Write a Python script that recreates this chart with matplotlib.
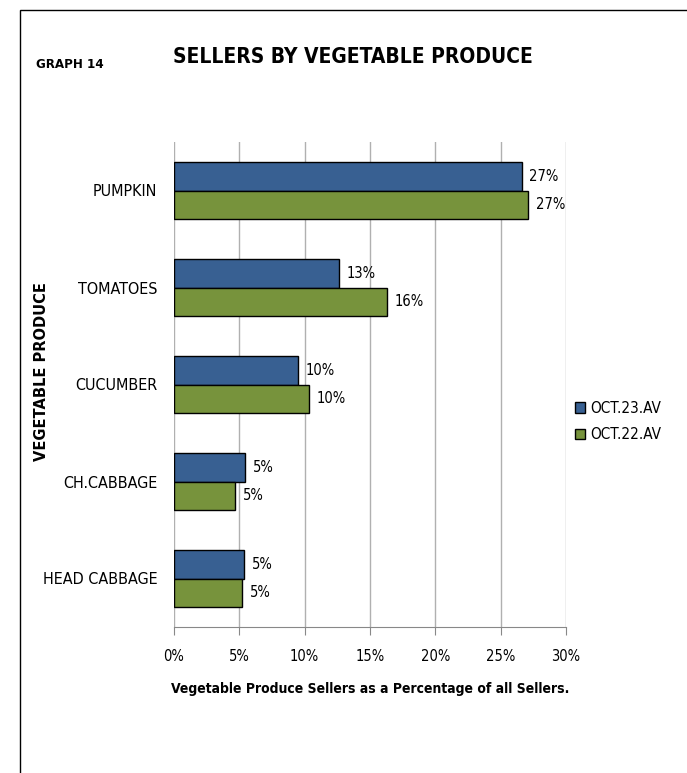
import matplotlib
matplotlib.use('Agg')
import matplotlib.pyplot as plt
import numpy as np
from matplotlib.patches import Rectangle

plt.rcParams['font.family'] = ['DejaVu Sans']
plt.rcParams['font.stretch'] = 'condensed'

categories = ['PUMPKIN', 'TOMATOES', 'CUCUMBER', 'CH.CABBAGE', 'HEAD CABBAGE']
oct23 = [26.6, 12.6, 9.5, 5.45, 5.37]
oct22 = [27.1, 16.3, 10.3, 4.7, 5.2]
series_names = ['OCT.23.AV', 'OCT.22.AV']
colors = ['#386092', '#77933C']
xticks = [0, 5, 10, 15, 20, 25, 30]

fig = plt.figure(figsize=(6.87, 7.73), dpi=100)
W, H = 687, 773
ax = fig.add_axes([174 / W, 1 - 627 / H, (566 - 174) / W, (627 - 142) / H])

y = np.arange(len(categories))[::-1]
h = 0.29
ax.barh(y + h / 2, oct23, height=h, color=colors[0], edgecolor='black', linewidth=1, label=series_names[0], zorder=3)
ax.barh(y - h / 2, oct22, height=h, color=colors[1], edgecolor='black', linewidth=1, label=series_names[1], zorder=3)

for yy, v in zip(y, oct23):
    ax.text(v + 0.6, yy + h / 2, f'{round(v):.0f}%', va='center', ha='left', fontsize=10.5)
for yy, v in zip(y, oct22):
    ax.text(v + 0.6, yy - h / 2, f'{round(v):.0f}%', va='center', ha='left', fontsize=10.5)

ax.set_xlim(0, 30)
ax.set_ylim(-0.5, len(categories) - 0.5)
ax.set_xticks(xticks)
ax.set_xticklabels([f'{t}%' for t in xticks], fontsize=10.5)
ax.set_yticks(y)
ax.set_yticklabels(categories, fontsize=11.5)
ax.tick_params(axis='y', length=0, pad=12)
ax.tick_params(axis='x', length=6, color='#888888', pad=10)
ax.grid(axis='x', color='#b0b0b0', linewidth=1, zorder=0)
for s in ['top', 'right', 'left']:
    ax.spines[s].set_visible(False)
ax.spines['bottom'].set_color('#888888')

ax.set_xlabel('Vegetable Produce Sellers as a Percentage of all Sellers.', fontsize=10, fontweight='bold', labelpad=13)

fig.text(42 / W, 1 - 372 / H, 'VEGETABLE PRODUCE', rotation=90, ha='center', va='center',
         fontsize=10.5, fontweight='bold', stretch='normal')
fig.text(353 / W, 1 - 57 / H, 'SELLERS BY VEGETABLE PRODUCE', ha='center', va='center',
         fontsize=15, fontweight='bold')
fig.text(36 / W, 1 - 65 / H, 'GRAPH 14', ha='left', va='center', fontsize=9.5, fontweight='bold')

leg = fig.legend(loc='upper left', bbox_to_anchor=(561 / W, 1 - 387 / H), frameon=False,
                 fontsize=11, handlelength=0.7, handleheight=0.7, handletextpad=0.3, labelspacing=0.75)
for p in leg.get_patches():
    p.set_edgecolor('black')

fig.patches.append(Rectangle((20 / W, -0.1), 1.2, 1 - 10 / H + 0.1, transform=fig.transFigure,
                             fill=False, edgecolor='black', linewidth=1))

fig.savefig('out.png', dpi=100)
